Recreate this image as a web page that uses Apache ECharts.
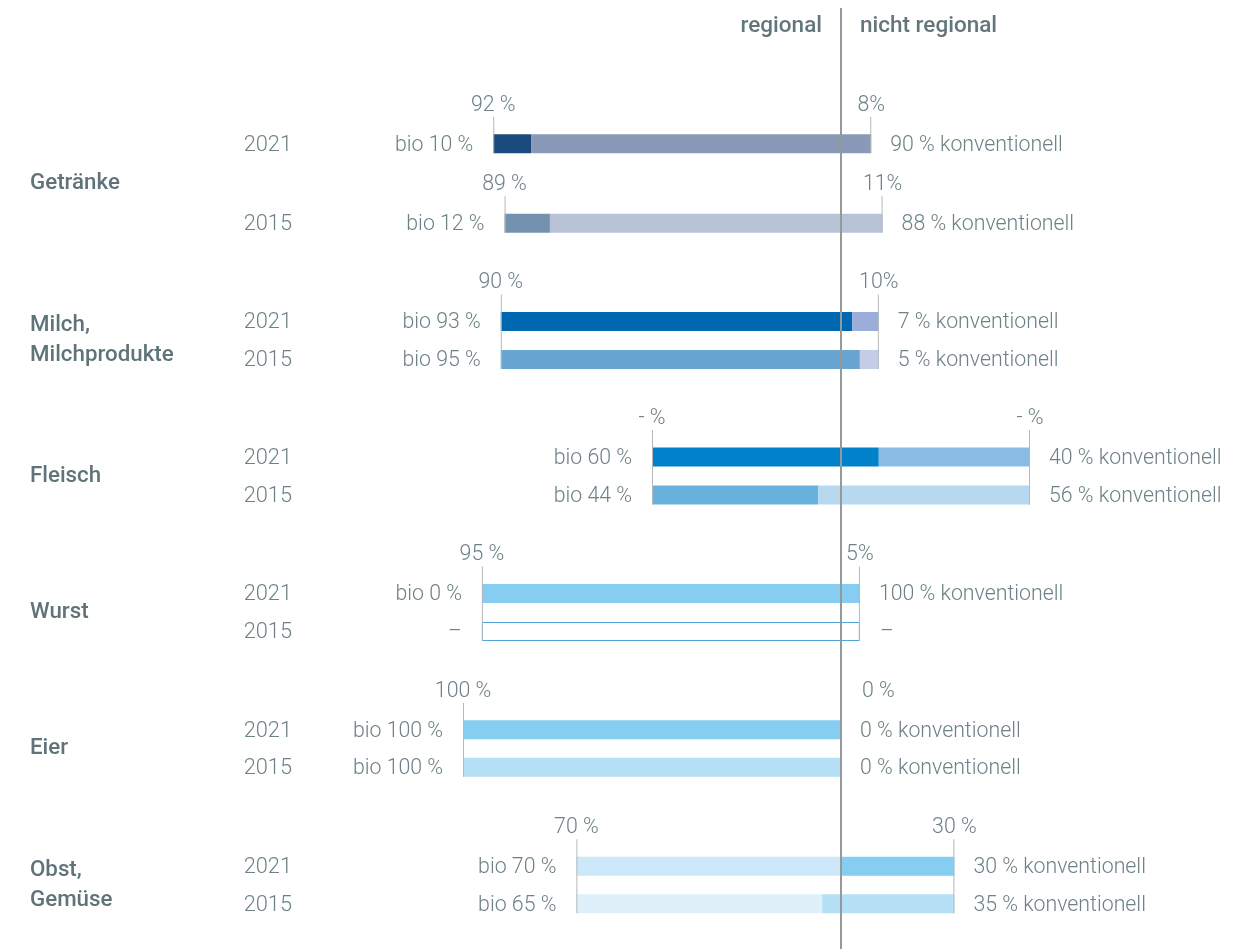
<!DOCTYPE html>
<html>
<head>
<meta charset="utf-8">
<script src="https://cdn.jsdelivr.net/npm/echarts@6/dist/echarts.min.js"></script>
<style>
  html, body { margin: 0; padding: 0; background: #fff; }
  #chart { width: 1256px; height: 949px; }
</style>
</head>
<body>
<div id="chart"></div>
<script>
// Daten
const groups = ["Getränke", "Milch,\nMilchprodukte", "Fleisch", "Wurst", "Eier", "Obst,\nGemüse"];
const years = ["2021", "2015"];
// Anteil regional je Gruppe / Jahr (Fleisch unbekannt -> mittig 50/50 gezeichnet)
const regional = [[92, 89], [90, 90], [50, 50], [95, 95], [100, 100], [70, 70]];
// Bio-Anteil am Balken (null = keine Angabe)
const bio = [[10, 12], [93, 95], [60, 44], [0, null], [100, 100], [70, 65]];
// Beschriftung über den Balken (Getränke je Jahr, sonst eine für beide Jahre)
const regionalLabels = [["92 %", "89 %"], ["90 %"], ["- %"], ["95 %"], ["100 %"], ["70 %"]];
const nichtRegionalLabels = [["8%", "11%"], ["10%"], ["- %"], ["5%"], ["0 %"], ["30 %"]];

// Farben
const bioColors = [["#1b4a7e", "#7492b0"], ["#0068b0", "#68a5d2"], ["#0081c9", "#66b2dd"], ["#86cdf2", null], ["#86cdf2", "#b5e0f6"], ["#cce8f9", "#e0f0fb"]];
const konvColors = [["#8a99b8", "#b9c3d8"], ["#9aaed9", "#c3cde8"], ["#8abbe4", "#b8d8f0"], ["#86cdf2", null], ["#86cdf2", "#b5e0f6"], ["#86cdf2", "#b5e0f6"]];

const textColor = "#6e8186";
const lightFont = "Roboto";
const fs = 21.3;
const barH = 19;
const dy = 1.5; // Text etwas tiefer

const gridBoxes = [
  { top: 104, height: 159 },
  { top: 302.5, height: 76 },
  { top: 438, height: 76 },
  { top: 574.5, height: 76 },
  { top: 711, height: 75 },
  { top: 847.5, height: 75 }
];

const txt = (x, y, text, align, opts) => ({
  type: "text",
  x: x,
  y: y + dy,
  style: Object.assign({
    text: text,
    fill: textColor,
    fontFamily: lightFont,
    fontWeight: 300,
    fontSize: fs,
    textAlign: align,
    align: align,
    textVerticalAlign: "middle",
    verticalAlign: "middle"
  }, opts || {})
});

function renderRow(params, api) {
  const yi = api.value(0);
  const reg = api.value(1);
  const b = api.value(2);
  const gi = api.value(3);
  const y = api.coord([0, yi])[1];
  const xL = api.coord([-reg, yi])[0];
  const xR = api.coord([100 - reg, yi])[0];
  const children = [
    txt(params.coordSys.x - 171, y, years[yi], "right", { fontSize: 21.8 })
  ];
  if (isNaN(b)) {
    children.push({
      type: "rect",
      shape: { x: xL + 0.5, y: y - barH / 2 + 0.5, width: xR - xL - 1, height: barH - 1 },
      style: { fill: "#fff", stroke: "#4fa3d8", lineWidth: 1 }
    });
    children.push(txt(xL - 20, y, "–", "right"));
    children.push(txt(xR + 20, y, "–", "left"));
  } else {
    const xB = api.coord([-reg + b, yi])[0];
    children.push({
      type: "rect",
      shape: { x: xL, y: y - barH / 2, width: xB - xL, height: barH },
      style: { fill: bioColors[gi][yi] }
    });
    children.push({
      type: "rect",
      shape: { x: xB, y: y - barH / 2, width: xR - xB, height: barH },
      style: { fill: konvColors[gi][yi] }
    });
    children.push(txt(xL - 20, y, "bio " + b + " %", "right"));
    children.push(txt(xR + 19, y, (100 - b) + " % konventionell", "left"));
  }
  return { type: "group", children: children };
}

function renderBracket(params, api) {
  const y0 = api.value(0);
  const y1 = api.value(1);
  const reg = api.value(2);
  const gi = api.value(3);
  const li = api.value(4);
  const yc = api.coord([0, y0])[1];
  const yb = api.coord([0, y1])[1] + barH / 2;
  const xL = api.coord([-reg, y0])[0];
  const xR = api.coord([100 - reg, y0])[0];
  const lineStyle = { stroke: "#b3b8ba", lineWidth: 1 };
  const children = [
    { type: "line", shape: { x1: xL + 0.5, y1: yc - 27, x2: xL + 0.5, y2: yb }, style: lineStyle },
    { type: "line", shape: { x1: xR - 0.5, y1: yc - 27, x2: xR - 0.5, y2: yb }, style: lineStyle },
    txt(xL, yc - 40, regionalLabels[gi][li], "center")
  ];
  if (reg === 100) {
    children.push(txt(xR + 21, yc - 40, nichtRegionalLabels[gi][li], "left"));
  } else {
    children.push(txt(xR, yc - 40, nichtRegionalLabels[gi][li], "center"));
  }
  return { type: "group", children: children };
}

function renderCenter(params, api) {
  const x0 = Math.round(api.coord([0, 0])[0]);
  const cs = params.coordSys;
  const head = { fontWeight: 500, fontSize: 22.5, fill: "#62767b" };
  return {
    type: "group",
    children: [
      { type: "line", shape: { x1: x0, y1: 8, x2: x0, y2: cs.y + cs.height }, style: { stroke: "#96999a", lineWidth: 2 } },
      txt(x0 - 19, 25, "regional", "right", head),
      txt(x0 + 19, 25, "nicht regional", "left", head)
    ]
  };
}

const grids = [];
const xAxes = [];
const yAxes = [];
const series = [];

groups.forEach((name, gi) => {
  grids.push({ left: 463, right: 37, top: gridBoxes[gi].top, height: gridBoxes[gi].height });
  xAxes.push({ type: "value", gridIndex: gi, min: -100, max: 100, show: false });
  yAxes.push({
    type: "category",
    gridIndex: gi,
    data: years,
    inverse: true,
    axisLine: { show: false },
    axisTick: { show: false },
    axisLabel: { show: false },
    name: name,
    nameLocation: "middle",
    nameRotate: 0,
    nameGap: 433,
    nameTextStyle: { align: "left", verticalAlign: "middle", color: "#5f7378", fontFamily: "Roboto", fontWeight: 500, fontSize: 22.3, lineHeight: 30, padding: [3, 0, 0, 0] }
  });

  const rows = years.map((yr, yi) => [yi, regional[gi][yi], bio[gi][yi] === null ? NaN : bio[gi][yi], gi]);
  series.push({
    type: "custom",
    xAxisIndex: gi,
    yAxisIndex: gi,
    renderItem: renderRow,
    encode: { x: 1, y: 0 },
    data: rows,
    silent: true
  });

  const labels = regionalLabels[gi];
  const brackets = labels.map((l, li) => {
    const last = labels.length === 1 ? years.length - 1 : li;
    return [li, last, regional[gi][li], gi, li];
  });
  series.push({
    type: "custom",
    xAxisIndex: gi,
    yAxisIndex: gi,
    renderItem: renderBracket,
    encode: { x: 2, y: 0 },
    data: brackets,
    silent: true
  });
});

// volle Höhe für die Mittellinie
const ci = groups.length;
grids.push({ left: 463, right: 37, top: 0, bottom: 0 });
xAxes.push({ type: "value", gridIndex: ci, min: -100, max: 100, show: false });
yAxes.push({ type: "value", gridIndex: ci, min: 0, max: 1, show: false });
series.push({
  type: "custom",
  xAxisIndex: ci,
  yAxisIndex: ci,
  renderItem: renderCenter,
  data: [[0, 0]],
  z: 10,
  silent: true
});

const chart = echarts.init(document.getElementById("chart"));
chart.setOption({
  animation: false,
  backgroundColor: "#ffffff",
  grid: grids,
  xAxis: xAxes,
  yAxis: yAxes,
  series: series
});
</script>
</body>
</html>
